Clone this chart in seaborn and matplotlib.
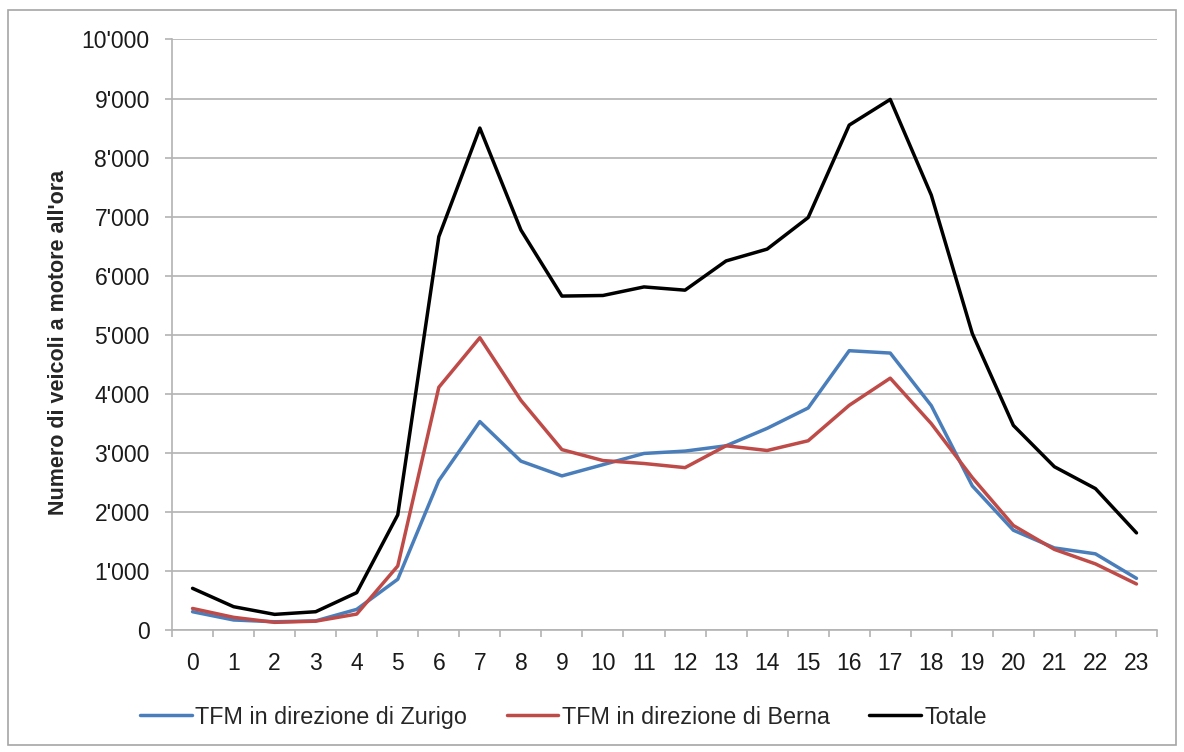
import numpy as np
import pandas as pd
import matplotlib
matplotlib.use("Agg")
import matplotlib.pyplot as plt
import seaborn as sns
from matplotlib.ticker import FuncFormatter, FixedLocator
from matplotlib.patches import Rectangle

# dati (veicoli all'ora per ora del giorno)
ore = list(range(24))
zurigo = [310, 170, 140, 155, 350, 860, 2530, 3530, 2860, 2610, 2800, 2990,
          3030, 3120, 3415, 3760, 4730, 4690, 3800, 2440, 1690, 1390, 1290, 875]
berna = [365, 215, 130, 150, 270, 1085, 4110, 4950, 3890, 3055, 2870, 2820,
         2750, 3120, 3040, 3205, 3805, 4265, 3495, 2580, 1770, 1365, 1120, 780]
totale = [706, 395, 265, 310, 633, 1950, 6660, 8500, 6775, 5655, 5665, 5810,
          5755, 6250, 6450, 6985, 8550, 8985, 7365, 5020, 3465, 2765, 2395, 1645]
serie = ["TFM in direzione di Zurigo", "TFM in direzione di Berna", "Totale"]
colori = ["#4A7EBB", "#BE4B48", "#000000"]

df = pd.DataFrame({
    "ora": ore * 3,
    "valore": zurigo + berna + totale,
    "serie": [serie[0]] * 24 + [serie[1]] * 24 + [serie[2]] * 24,
})

sns.set_style("white")
plt.rcParams["font.family"] = ["Liberation Sans", "DejaVu Sans"]

fig = plt.figure(figsize=(11.84, 7.52), dpi=100)
ax = fig.add_axes([0.1453, 0.1622, 0.8319, 0.7853])

sns.lineplot(data=df, x="ora", y="valore", hue="serie", hue_order=serie,
             palette=dict(zip(serie, colori)), linewidth=2.5, sort=False, ax=ax)

griglia = "#B3B3B3"
ax.set_xlim(-0.5, 23.5)
ax.set_ylim(0, 10000)
ax.set_yticks(np.arange(0, 10001, 1000))
ax.yaxis.set_major_formatter(FuncFormatter(lambda v, p: f"{int(v):,}".replace(",", "'")))
ax.set_xticks(ore)
ax.set_xticklabels([str(h) for h in ore])
ax.xaxis.set_minor_locator(FixedLocator(np.arange(-0.5, 24, 1)))
ax.grid(axis="y", color=griglia, linewidth=1.2)
ax.set_axisbelow(True)

for lato in ["top", "right"]:
    ax.spines[lato].set_visible(False)
for lato in ["left", "bottom"]:
    ax.spines[lato].set_color(griglia)
    ax.spines[lato].set_linewidth(1.2)

ax.tick_params(axis="y", which="major", left=True, length=5, width=1.2,
               color=griglia, pad=11, labelsize=16.5, labelcolor="#1a1a1a")
ax.tick_params(axis="x", which="major", bottom=True, length=0, pad=16,
               labelsize=16.5, labelcolor="#1a1a1a")
ax.tick_params(axis="x", which="minor", bottom=True, length=5, width=1.2, color=griglia)

ax.set_xlabel("")
ax.set_ylabel("Numero di veicoli a motore all'ora", fontsize=15.5, fontweight="bold")
ax.yaxis.set_label_coords(-0.105, 0.487)

handles, labels = ax.get_legend_handles_labels()
ax.get_legend().remove()
fig.legend(handles, labels, loc="center", bbox_to_anchor=(0.476, 0.0465), ncol=3,
           frameon=False, fontsize=16.8, handlelength=2.2, handletextpad=0.15,
           columnspacing=1.7)

# cornice esterna
fig.patches.append(Rectangle((8 / 1184, 7 / 752), 1168 / 1184, 735 / 752,
                             transform=fig.transFigure, fill=False,
                             edgecolor="#A6A6A6", linewidth=1.2))

fig.savefig("out.png", dpi=100)
